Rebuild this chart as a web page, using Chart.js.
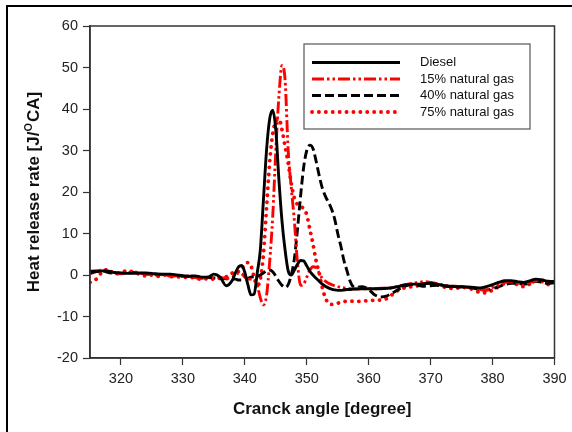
<!DOCTYPE html>
<html>
<head>
<meta charset="utf-8">
<script src="https://cdn.jsdelivr.net/npm/chart.js@4.4.1/dist/chart.umd.min.js"></script>
<style>
  body { margin: 0; background: #fff; }
  #wrap { position: relative; width: 572px; height: 432px; overflow: hidden; }
  #frame { position: absolute; left: 6px; top: 5px; width: 600px; height: 500px;
           border-left: 2px solid #000; border-top: 2px solid #000; }
  canvas { position: absolute; left: 0; top: 0; }
</style>
</head>
<body>
<div id="wrap">
  <div id="frame"></div>
  <canvas id="hrr" width="572" height="432"></canvas>
</div>
<script>
// crank angle (degree)
const angles = [
  315,316,317,318,319,320,321,322,323,324,325,326,327,328,329,330,331,332,333,334,335,336,337,338,
  338.5,339,339.5,340,340.5,341,341.5,342,342.5,343,343.5,344,344.5,345,345.5,346,346.5,347,347.5,348,
  348.5,349,349.5,350,350.5,351,351.5,352,352.5,353,353.5,354,354.5,355,355.5,356,356.5,357,357.5,358,
  359,360,361,362,363,364,365,366,367,368,369,370,371,372,373,374,375,376,377,378,379,380,381,382,383,384,
  385,386,387,388,389,390
];

// heat release rate [J/oCA]
const diesel = [
  0.6,0.8,1.0,0.9,0.6,0.5,0.4,0.4,0.5,0.5,0.4,0.2,0.2,0.2,0.0,-0.2,-0.3,-0.2,-0.5,-0.5,0.2,-0.5,-2.6,-1.2,
  0.6,2.0,2.3,0.6,-2.4,-4.8,-4.6,0.5,6,18,30,37.5,39.7,35,23,13,6,1,0,1.2,
  2.6,3.5,3.4,2.2,0.9,0,-0.8,-1.5,-2.2,-2.7,-3.1,-3.4,-3.6,-3.7,-3.7,-3.6,-3.5,-3.5,-3.4,-3.4,
  -3.3,-3.3,-3.3,-3.3,-3.2,-3.0,-2.7,-2.4,-2.2,-2.2,-2.1,-2.0,-2.2,-2.5,-2.7,-2.8,-2.8,-2.9,-3.0,-3.1,-2.8,-2.3,-1.8,-1.4,-1.4,-1.6,
  -1.8,-1.4,-1.0,-1.2,-1.5,-1.6
];
const gas15 = [
  0.3,0.8,1.2,1.0,0.5,0.3,0.6,0.8,0.5,0.2,0.1,-0.1,0.2,-0.3,-0.2,-0.4,-0.2,-0.6,-0.8,-0.5,-0.8,-0.6,-0.8,-0.5,
  0,0.5,0.3,-0.5,-1,-1,-1.2,-2.5,-5.5,-7.2,-5,3,14,30,43,50.5,47,30,21,13,
  3,-2.5,-2.2,-0.5,1.2,2.0,1.8,0.5,-0.8,-1.5,-2.0,-2.3,-2.6,-2.8,-3.0,-3.1,-3.2,-3.3,-3.3,-3.3,
  -3.3,-3.3,-3.3,-3.2,-3.2,-3.0,-2.6,-2.3,-2.0,-1.8,-1.6,-1.8,-2.1,-2.4,-2.6,-2.7,-2.8,-3.0,-3.2,-3.5,-3.6,-3.0,-2.4,-1.8,-1.6,-2.0,
  -2.4,-1.8,-1.4,-1.2,-1.6,-1.5
];
const gas40 = [
  0.9,1.0,1.0,0.6,0.3,0.4,0.5,0.6,0.5,0.3,0.2,0.2,0.1,0.0,-0.1,-0.2,-0.4,-0.5,-0.6,-0.6,-0.7,-0.8,-0.9,-1.0,
  -1.0,-1.2,-1.2,-1.0,-0.8,-0.5,-0.4,-0.3,0,0.5,1.0,1.2,0.8,-0.3,-1.5,-2.5,-3.0,-2.3,0,4,
  11,19,26,30,31.3,30.5,27.5,24,21,19,17.5,15.9,13.5,10,7,3.5,1,-1.5,-2.8,-3.0,
  -2.8,-3.5,-4.8,-5.3,-5.0,-4.2,-3.3,-2.6,-2.3,-2.5,-2.7,-2.6,-2.5,-2.6,-2.8,-2.9,-2.9,-3.0,-3.2,-3.5,-3.6,-3.3,-2.8,-2.3,-2.0,-2.0,
  -2.2,-2.0,-1.5,-1.8,-2.0,-1.9
];
const gas75 = [
  -1.8,-1.0,0.8,1.3,0.2,0.6,1.0,0.7,0.2,-0.2,0,-0.3,0,-0.4,-0.4,-0.6,-0.5,-0.8,-1.0,-0.9,-1.0,-0.8,-0.4,0.5,
  1.0,0.8,1.5,2.8,3.0,2.2,-0.5,-2.5,-1,5,16,27,34,37,37.6,35,31,27,22,18.5,
  17,16.5,16,14.5,11,7.5,3.5,0.5,-3,-5.5,-6.8,-7.1,-7.0,-6.8,-6.6,-6.4,-6.3,-6.3,-6.3,-6.4,
  -6.3,-6.2,-6.1,-6.0,-5.6,-4.5,-3.5,-3.0,-2.8,-2.6,-2.2,-2.0,-2.3,-2.8,-3.2,-3.2,-3.0,-3.1,-3.6,-4.2,-4.3,-3.6,-2.8,-2.0,-1.8,-2.3,
  -2.8,-2.2,-1.3,-1.6,-2.3,-2.5
];

const seriesNames = ["Diesel", "15% natural gas", "40% natural gas", "75% natural gas"];
const xTicks = [320, 330, 340, 350, 360, 370, 380, 390];
const yTicks = [-20, -10, 0, 10, 20, 30, 40, 50, 60];

const styles = [
  { color: "#000", dash: [], cap: "butt", width: 2.9 },
  { color: "#f00", dash: [12, 3, 2.5, 3, 2.5, 3], cap: "butt", width: 2.9 },
  { color: "#000", dash: [9, 4], cap: "butt", width: 2.9 },
  { color: "#f00", dash: [0.1, 6.8], cap: "round", width: 3.8 },
];

const toPoints = vals => angles.map((a, i) => ({ x: a, y: vals[i] }));
const allSeries = [diesel, gas15, gas40, gas75];

const FONT = '"Liberation Sans", Arial, sans-serif';

const decorations = {
  id: "decorations",
  afterDraw(chart) {
    const ctx = chart.ctx;
    const a = chart.chartArea;
    ctx.save();
    // box around plot
    ctx.strokeStyle = "#333";
    ctx.lineWidth = 1.5;
    ctx.strokeRect(a.left, a.top, a.right - a.left, a.bottom - a.top);

    // legend
    ctx.fillStyle = "#fff";
    ctx.fillRect(304, 44, 226, 85);
    ctx.strokeStyle = "#555";
    ctx.lineWidth = 1.2;
    ctx.strokeRect(304, 44, 226, 85);
    const rows = [62.5, 79, 95.5, 112];
    styles.forEach((s, i) => {
      ctx.beginPath();
      ctx.setLineDash(s.dash);
      ctx.lineCap = s.cap;
      ctx.lineWidth = s.width;
      ctx.strokeStyle = s.color;
      ctx.moveTo(312, rows[i]);
      ctx.lineTo(400, rows[i]);
      ctx.stroke();
      ctx.setLineDash([]);
      ctx.fillStyle = "#111";
      ctx.font = "13px " + FONT;
      ctx.textBaseline = "middle";
      ctx.textAlign = "left";
      ctx.fillText(seriesNames[i], 420, rows[i]);
    });

    // x title
    ctx.fillStyle = "#111";
    ctx.font = "bold 17px " + FONT;
    ctx.textAlign = "center";
    ctx.textBaseline = "middle";
    ctx.fillText("Cranck angle [degree]", (a.left + a.right) / 2, 409);

    // y title with superscript O
    ctx.translate(34, (a.top + a.bottom) / 2);
    ctx.rotate(-Math.PI / 2);
    const big = "bold 17px " + FONT, small = "bold 11px " + FONT;
    const p1 = "Heat release rate [J/", p2 = "O", p3 = "CA]";
    ctx.font = big;
    const w1 = ctx.measureText(p1).width, w3 = ctx.measureText(p3).width;
    ctx.font = small;
    const w2 = ctx.measureText(p2).width + 1;
    let x = -(w1 + w2 + w3) / 2;
    ctx.textAlign = "left";
    ctx.font = big;
    ctx.fillText(p1, x, 0);
    x += w1;
    ctx.font = small;
    ctx.fillText(p2, x, -5);
    x += w2;
    ctx.font = big;
    ctx.fillText(p3, x, 0);
    ctx.restore();
  }
};

new Chart(document.getElementById("hrr"), {
  type: "line",
  data: {
    datasets: allSeries.map((vals, i) => ({
      label: seriesNames[i],
      data: toPoints(vals),
      borderColor: styles[i].color,
      borderDash: styles[i].dash,
      borderCapStyle: styles[i].cap,
      borderWidth: styles[i].width,
      pointRadius: 0,
      fill: false,
      cubicInterpolationMode: "monotone",
    })),
  },
  options: {
    responsive: false,
    animation: false,
    layout: { padding: { left: 0, right: 17.5, top: 26, bottom: 0 } },
    plugins: { legend: { display: false }, tooltip: { enabled: false } },
    scales: {
      x: {
        type: "linear",
        min: 315,
        max: 390,
        afterBuildTicks: s => { s.ticks = xTicks.map(v => ({ value: v })); },
        afterFit: s => { s.height = 74; },
        grid: { drawOnChartArea: false, tickLength: 7, color: "#333", tickWidth: 1.2 },
        border: { color: "#333", width: 1.5 },
        ticks: { color: "#222", padding: 5, maxRotation: 0, autoSkip: false, font: { family: FONT, size: 14.5 } },
      },
      y: {
        min: -20,
        max: 60,
        afterBuildTicks: s => { s.ticks = yTicks.map(v => ({ value: v })); },
        afterFit: s => { s.width = 90; },
        grid: { drawOnChartArea: false, tickLength: 7, color: "#333", tickWidth: 1.2 },
        border: { color: "#333", width: 1.5 },
        ticks: { color: "#222", padding: 5, font: { family: FONT, size: 14.5 } },
      },
    },
  },
  plugins: [decorations],
});
</script>
</body>
</html>
